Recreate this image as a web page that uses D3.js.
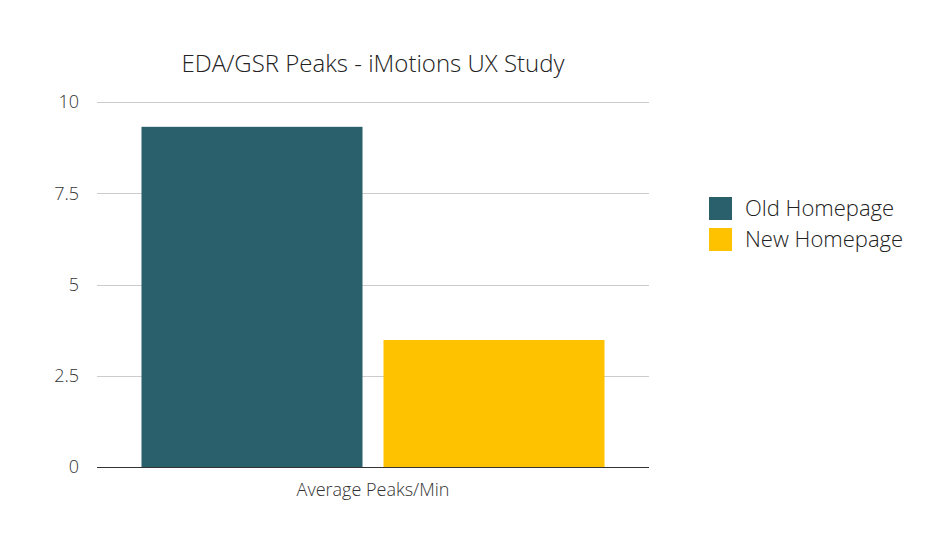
<!DOCTYPE html>
<html>
<head>
<meta charset="utf-8">
<script src="https://cdn.jsdelivr.net/npm/d3@7"></script>
<style>
  html, body { margin: 0; padding: 0; background: #fff; }
  svg { display: block; font-family: "Open Sans", sans-serif; }
</style>
</head>
<body>
<svg id="chart" width="929" height="543"></svg>
<script>
const categories = ["Average Peaks/Min"];
const seriesNames = ["Old Homepage", "New Homepage"];
const seriesValues = [9.32, 3.48];
const seriesColors = ["#2a606b", "#ffc200"];
const yTicks = [0, 2.5, 5, 7.5, 10];
const yTickLabels = ["0", "2.5", "5", "7.5", "10"];
const title = "EDA/GSR Peaks - iMotions UX Study";

(function () {
const svg = d3.select("#chart");
const plotLeft = 97, plotRight = 649, plotTop = 102, plotBottom = 467;
const FONT = '"Open Sans", sans-serif';

const y = d3.scaleLinear().domain([0, 10]).range([plotBottom, plotTop]);
const x0 = d3.scaleBand().domain(categories).range([plotLeft, plotRight]).paddingInner(0).paddingOuter(0.0961);
const x1 = d3.scaleBand().domain(seriesNames).range([0, x0.bandwidth()]).paddingInner(0.0868).paddingOuter(0);

// gridlines
const yAxis = d3.axisLeft(y).tickValues(yTicks).tickSize(-(plotRight - plotLeft))
  .tickFormat((d, i) => yTickLabels[i]);
const gy = svg.append("g").attr("transform", `translate(${plotLeft},0)`).call(yAxis)
  .attr("font-family", FONT).attr("font-size", 18).attr("font-weight", 300);
gy.select(".domain").remove();
gy.selectAll(".tick line").attr("stroke", d => d === 0 ? "#333" : "#ccc").attr("stroke-width", 1)
  .attr("shape-rendering", "crispEdges");
gy.selectAll(".tick text").attr("x", -18).attr("fill", "#333");

// bars
const g = svg.append("g");
categories.forEach(cat => {
  seriesNames.forEach((s, i) => {
    g.append("rect")
      .attr("x", x0(cat) + x1(s))
      .attr("y", y(seriesValues[i]))
      .attr("width", x1.bandwidth())
      .attr("height", y(0) - y(seriesValues[i]))
      .attr("fill", seriesColors[i]);
  });
});

// redraw baseline above bars
const gb = svg.append("g").attr("transform", `translate(${plotLeft},0)`)
  .call(d3.axisLeft(y).tickValues([0]).tickSize(-(plotRight - plotLeft)).tickFormat(""));
gb.select(".domain").remove();
gb.selectAll(".tick line").attr("stroke", "#333").attr("shape-rendering", "crispEdges");

// x axis label
const xAxis = d3.axisBottom(x0).tickSize(0);
const gx = svg.append("g").attr("transform", `translate(0,${plotBottom})`).call(xAxis)
  .attr("font-family", FONT).attr("font-size", 18).attr("font-weight", 300);
gx.select(".domain").remove();
gx.selectAll(".tick text").attr("y", 16).attr("fill", "#333");

// title
svg.append("text").attr("x", 373).attr("y", 72).attr("text-anchor", "middle")
  .attr("fill", "#222").style("font-size", "24px").style("font-weight", 300).text(title);

// legend
const legend = svg.append("g");
seriesNames.forEach((s, i) => {
  const ly = 197 + i * 31;
  legend.append("rect").attr("x", 709).attr("y", ly).attr("width", 23).attr("height", 23)
    .attr("fill", seriesColors[i]);
  legend.append("text").attr("x", 745).attr("y", ly + 19).attr("fill", "#222")
    .style("font-size", "22px").style("font-weight", 300).text(s);
});
})();
</script>
</body>
</html>
